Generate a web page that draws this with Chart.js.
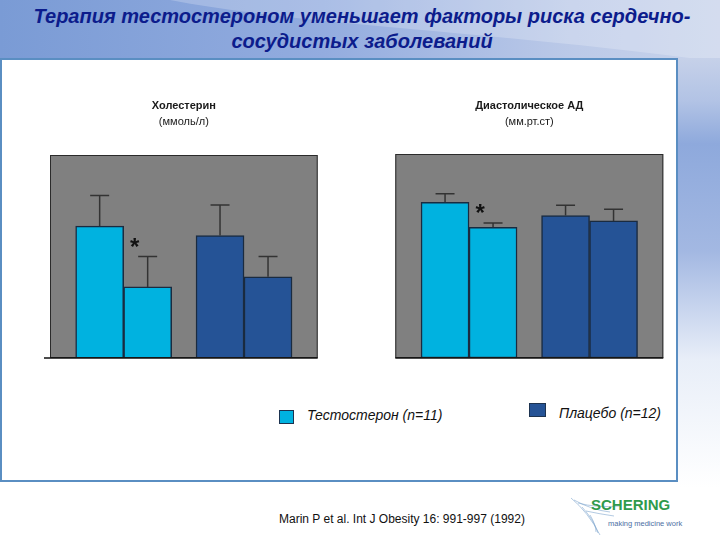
<!DOCTYPE html>
<html lang="ru">
<head>
<meta charset="utf-8">
<title>Терапия тестостероном</title>
<script src="https://cdn.jsdelivr.net/npm/chart.js@4.4.1/dist/chart.umd.min.js"></script>
<style>
  html, body { margin: 0; padding: 0; }
  body {
    width: 720px; height: 540px; position: relative; overflow: hidden;
    background: #fff; font-family: "Liberation Sans", Arial, sans-serif;
  }
  #fon { position: absolute; left: 0; top: 0; }
  #titulo {
    position: absolute; left: 2px; top: 4px; width: 720px; text-align: center;
    color: #0c1c8c; font-style: italic; font-weight: bold; font-size: 20px; line-height: 25px;
  }
  #painel {
    position: absolute; left: 0; top: 58px; width: 674px; height: 420px;
    border: 2px solid #5a8ec2; background: #fff;
  }
  canvas { position: absolute; }
  #graf-colesterol { left: 30px; top: 95px; }
  #graf-pressao { left: 370px; top: 95px; }
  .quadrado { position: absolute; width: 13px; height: 12px; border: 1px solid #1d3350; }
  .rotulo { position: absolute; font-style: italic; font-size: 14px; line-height: 16px; color: #111; }
  #citacao { position: absolute; left: 279px; top: 511px; font-size: 12px; line-height: 16px; color: #111; }
  #marca { position: absolute; left: 591px; top: 496px; font-weight: bold; font-size: 15px; line-height: 18px; color: #2f9a4c; }
  #lema { position: absolute; left: 608px; top: 519px; font-size: 7.5px; line-height: 9px; color: #4d6fa3; }
</style>
</head>
<body>
<svg id="fon" width="720" height="540">
  <defs>
    <linearGradient id="gTopo" x1="0" y1="0" x2="1" y2="0">
      <stop offset="0" stop-color="#7a9bd5"/>
      <stop offset="0.45" stop-color="#93acdf"/>
      <stop offset="0.8" stop-color="#bccae8"/>
      <stop offset="1" stop-color="#c8d3eb"/>
    </linearGradient>
    <linearGradient id="gDir" x1="0" y1="0" x2="0" y2="1">
      <stop offset="0" stop-color="#c6d1e9"/>
      <stop offset="0.1" stop-color="#b2c3e5"/>
      <stop offset="0.2" stop-color="#8ea9dc"/>
      <stop offset="0.45" stop-color="#a3b8e2"/>
      <stop offset="0.7" stop-color="#e8eef8"/>
      <stop offset="1" stop-color="#ffffff"/>
    </linearGradient>
  </defs>
  <rect x="0" y="0" width="720" height="60" fill="url(#gTopo)"/>
  <path d="M170 0 C 300 25, 480 30, 720 62 L720 0 Z" fill="#ffffff" opacity="0.22"/>
  <rect x="676" y="58" width="44" height="430" fill="url(#gDir)"/>
  <g stroke="#7fa6cf" stroke-width="0.6" fill="none">
    <path d="M571 498 Q 588 512 600 535"/>
    <path d="M574 500 Q 592 510 610 512"/>
    <path d="M578 503 Q 596 508 620 506"/>
    <path d="M582 507 Q 594 520 598 533"/>
    <path d="M586 511 Q 600 514 614 516"/>
    <path d="M590 515 Q 596 525 596 532"/>
  </g>
</svg>

<div id="titulo">Терапия тестостероном уменьшает факторы риска сердечно-<br>сосудистых заболеваний</div>
<div id="painel"></div>

<canvas id="graf-colesterol" width="300" height="275"></canvas>
<canvas id="graf-pressao" width="310" height="275"></canvas>

<div class="quadrado" style="left:279px; top:410px; background:#00b2e0;"></div>
<div class="rotulo" style="left:307px; top:407px;">Тестостерон (n=11)</div>
<div class="quadrado" style="left:529px; top:403px; width:15px; background:#255396;"></div>
<div class="rotulo" style="left:559px; top:405px;">Плацебо (n=12)</div>

<div id="citacao">Marin P et al. Int J Obesity 16: 991-997 (1992)</div>
<div id="marca">SCHERING</div>
<div id="lema">making medicine work</div>

<script>
// grupos: тестостерон / плацебо
const grupos = ['Тестостерон (n=11)', 'Плацебо (n=12)'];
const coresGrupos = ['#00b2e0', '#255396'];

// Холестерин (ммоль/л), до и после терапии
const colesterolAntes = [5.95, 5.81];
const colesterolDepois = [5.05, 5.20];
const colesterolAntesErro = [0.45, 0.45];
const colesterolDepoisErro = [0.45, 0.30];
const colesterolSignif = [true, false];
const colesterolEixo = [4, 7];

// Диастолическое АД (мм.рт.ст), до и после терапии
const pressaoAntes = [76.3, 69.8];
const pressaoDepois = [64.1, 67.2];
const pressaoAntesErro = [4.2, 5.1];
const pressaoDepoisErro = [2.1, 5.7];
const pressaoSignif = [true, false];
const pressaoEixo = [0, 100];

Chart.defaults.font.family = '"Liberation Sans", Arial, sans-serif';
Chart.defaults.color = '#1a1a1a';

// fundo cinza e moldura da área do gráfico
const fundoPlugin = {
  id: 'fundo',
  beforeDatasetsDraw(chart, args, opts) {
    const { ctx, chartArea: a } = chart;
    ctx.save();
    ctx.fillStyle = '#808080';
    ctx.fillRect(a.left, a.top, a.width, a.height);
    ctx.restore();
  },
  afterDatasetsDraw(chart, args, opts) {
    const { ctx, chartArea: a } = chart;
    ctx.save();
    ctx.strokeStyle = '#2b2b2b';
    ctx.lineWidth = 1;
    ctx.strokeRect(a.left + 0.5, a.top + 0.5, a.width - 1, a.height - 1);
    ctx.strokeStyle = '#111';
    ctx.lineWidth = 1.5;
    ctx.beginPath();
    ctx.moveTo(a.left - (opts.tick || 0), a.bottom);
    ctx.lineTo(a.right, a.bottom);
    ctx.stroke();
    ctx.restore();
  }
};

// barras de erro (só para cima) e asterisco de significância
const erroPlugin = {
  id: 'erros',
  afterDatasetsDraw(chart) {
    const { ctx } = chart;
    const y = chart.scales.y;
    ctx.save();
    chart.data.datasets.forEach((ds, di) => {
      const meta = chart.getDatasetMeta(di);
      meta.data.forEach((bar, i) => {
        const topo = y.getPixelForValue(ds.data[i].y + ds.erros[i]);
        ctx.strokeStyle = '#333';
        ctx.lineWidth = 1.5;
        ctx.beginPath();
        ctx.moveTo(bar.x, bar.y);
        ctx.lineTo(bar.x, topo);
        ctx.moveTo(bar.x - 9.5, topo);
        ctx.lineTo(bar.x + 9.5, topo);
        ctx.stroke();
        if (ds.estrelas && ds.estrelas[i]) {
          ctx.fillStyle = '#111';
          ctx.font = 'bold 24px "Liberation Sans", Arial, sans-serif';
          ctx.textAlign = 'center';
          ctx.textBaseline = 'alphabetic';
          ctx.fillText('*', bar.x - bar.width / 2 + 11, topo - 2);
        }
      });
    });
    ctx.restore();
  }
};

function pontos(valores) {
  return valores.map((v, i) => ({ x: i, y: v }));
}

function criarGrafico(id, titulo, unidade, antes, antesErro, depois, depoisErro, signif, eixo, pad, tick) {
  const ctx = document.getElementById(id).getContext('2d');
  return new Chart(ctx, {
    type: 'bar',
    data: {
      datasets: [
        {
          label: 'До',
          data: pontos(antes),
          erros: antesErro,
          backgroundColor: coresGrupos,
          borderColor: '#1a2b40',
          borderWidth: 1.5,
          borderSkipped: false
        },
        {
          label: 'После',
          data: pontos(depois),
          erros: depoisErro,
          estrelas: signif,
          backgroundColor: coresGrupos,
          borderColor: '#1a2b40',
          borderWidth: 1.5,
          borderSkipped: false
        }
      ]
    },
    options: {
      responsive: false,
      animation: false,
      devicePixelRatio: 1,
      barThickness: 48,
      layout: { padding: pad },
      plugins: {
        legend: { display: false },
        tooltip: { enabled: false },
        title: {
          display: true,
          text: titulo,
          font: { size: 11, weight: 'bold' },
          padding: { top: 4, bottom: 2 }
        },
        subtitle: {
          display: true,
          text: unidade,
          font: { size: 11 },
          padding: { top: 1, bottom: pad.sub }
        },
        fundo: { tick }
      },
      scales: {
        x: { type: 'linear', offset: false, min: -0.612, max: 1.612, display: false },
        y: { min: eixo[0], max: eixo[1], display: false }
      }
    },
    plugins: [fundoPlugin, erroPlugin]
  });
}

criarGrafico('graf-colesterol', 'Холестерин', '(ммоль/л)',
  colesterolAntes, colesterolAntesErro, colesterolDepois, colesterolDepoisErro,
  colesterolSignif, colesterolEixo,
  { left: 20, right: 12.3, top: 0, bottom: 12, sub: 26.6 }, 6);

criarGrafico('graf-pressao', 'Диастолическое АД', '(мм.рт.ст)',
  pressaoAntes, pressaoAntesErro, pressaoDepois, pressaoDepoisErro,
  pressaoSignif, pressaoEixo,
  { left: 25.3, right: 16.7, top: 0, bottom: 12, sub: 25.6 }, 0);
</script>
</body>
</html>
